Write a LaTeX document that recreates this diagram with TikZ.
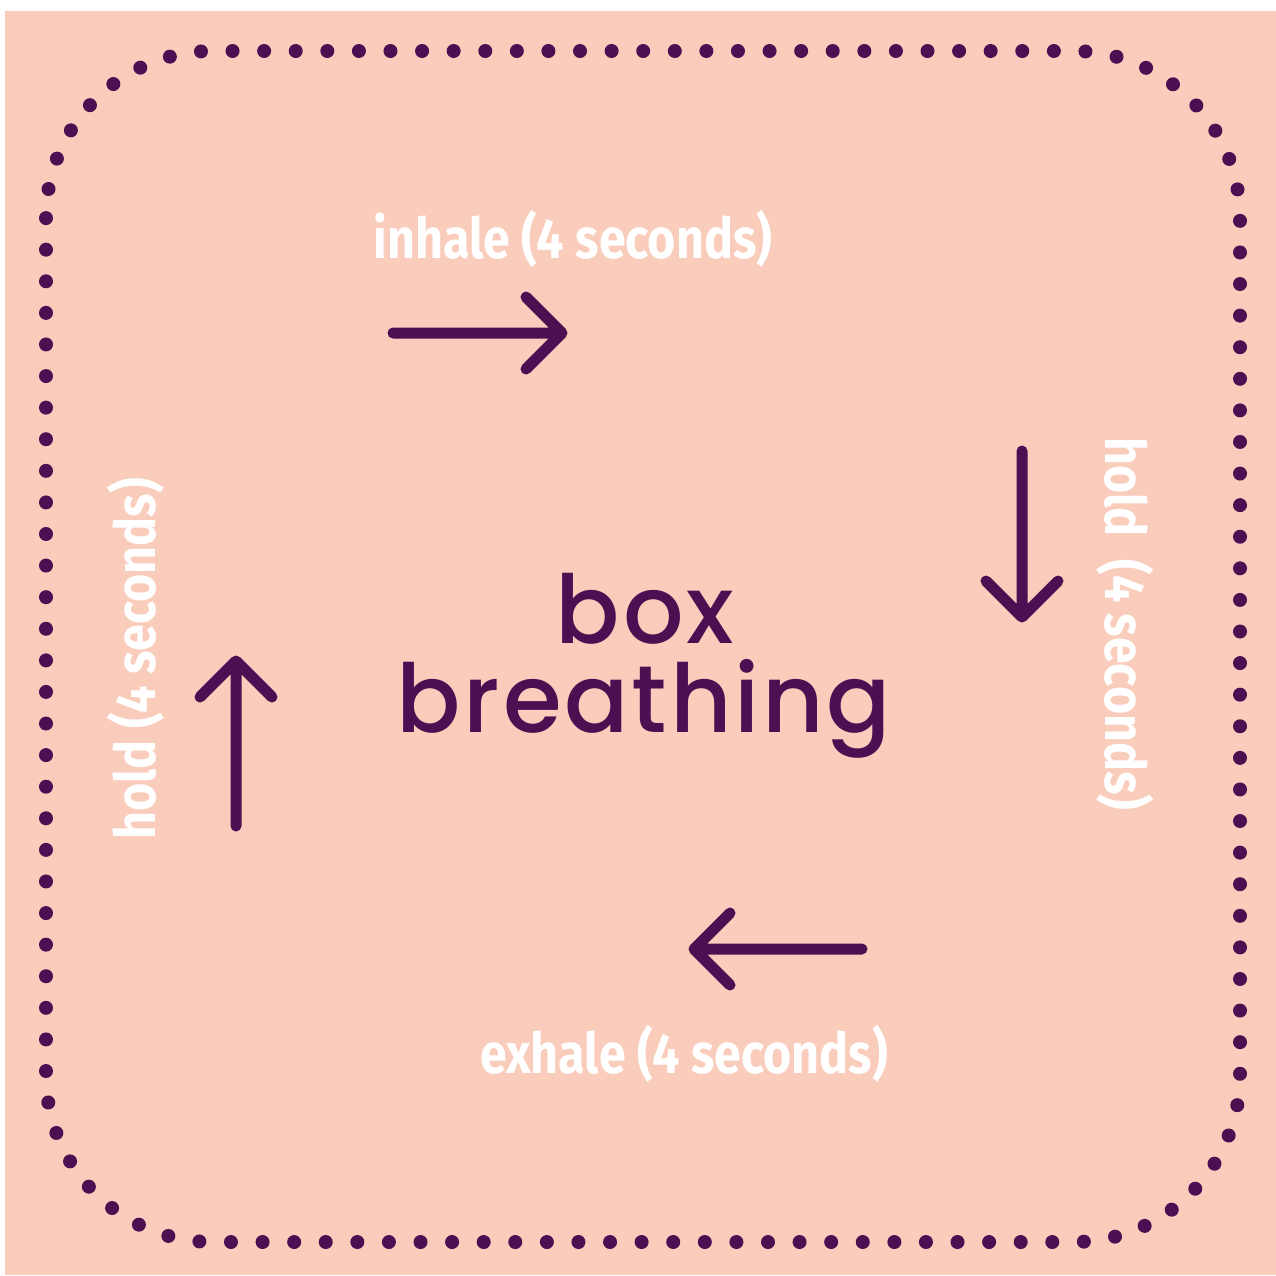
\documentclass[tikz,border=0pt]{standalone}
\usepackage{fontspec}
\newfontfamily\labelfont[FakeStretch=0.86]{Fira Sans}
\newfontfamily\titlefont[LetterSpace=3]{Poppins Medium}
\definecolor{peach}{HTML}{FACCBC}
\definecolor{plum}{HTML}{4B0F52}

\begin{document}
\begin{tikzpicture}[x=0.01cm, y=-0.01cm,
    arrowline/.style={plum, line width=0.11cm, line cap=round, line join=round},
    steplabel/.style={text=white, inner sep=0pt, anchor=base,
        font={\labelfont\bfseries\fontsize{16}{18}\selectfont}},
    titleline/.style={text=plum, inner sep=0pt, anchor=base,
        font={\titlefont\fontsize{27}{30}\selectfont}}]
    % Nền và khung chấm
    \useasboundingbox (0,0) rectangle (1276,1275);
    \fill[peach] (5,11) rectangle (1276,1275);
    \draw[plum, line width=0.14cm, line cap=round, dash pattern=on 0pt off 0.3157cm,
        rounded corners=1.67cm] (46,51) rectangle (1240,1242);

    % Mũi tên
    \coordinate (inhaleA) at (393,333);
    \coordinate (inhaleB) at (562,333);
    \draw[arrowline] (inhaleA) -- (inhaleB) ++(-36,-36) -- (inhaleB) -- +(-36,36);
    \coordinate (holdRA) at (1022,451);
    \coordinate (holdRB) at (1022,617);
    \draw[arrowline] (holdRA) -- (holdRB) ++(-36,-36) -- (holdRB) -- +(36,-36);
    \coordinate (exhaleA) at (862,949);
    \coordinate (exhaleB) at (694,949);
    \draw[arrowline] (exhaleA) -- (exhaleB) ++(36,-36) -- (exhaleB) -- +(36,36);
    \coordinate (holdLA) at (236,826);
    \coordinate (holdLB) at (236,661);
    \draw[arrowline] (holdLA) -- (holdLB) ++(-36,36) -- (holdLB) -- +(36,36);

    % Nhãn
    \node[steplabel] (inhale) at (573,258) {inhale (4 seconds)};
    \node[steplabel] (exhale) at (684,1073) {exhale (4 seconds)};
    \node[steplabel, rotate=-90] (holdR) at (1105,624) {hold\ \ (4 seconds)};
    \node[steplabel, rotate=90] (holdL) at (155,659) {hold (4 seconds)};

    % Tiêu đề
    \node[titleline] (box) at (645,643) {box};
    \node[titleline] (breathing) at (644,732) {breathing};
\end{tikzpicture}
\end{document}
